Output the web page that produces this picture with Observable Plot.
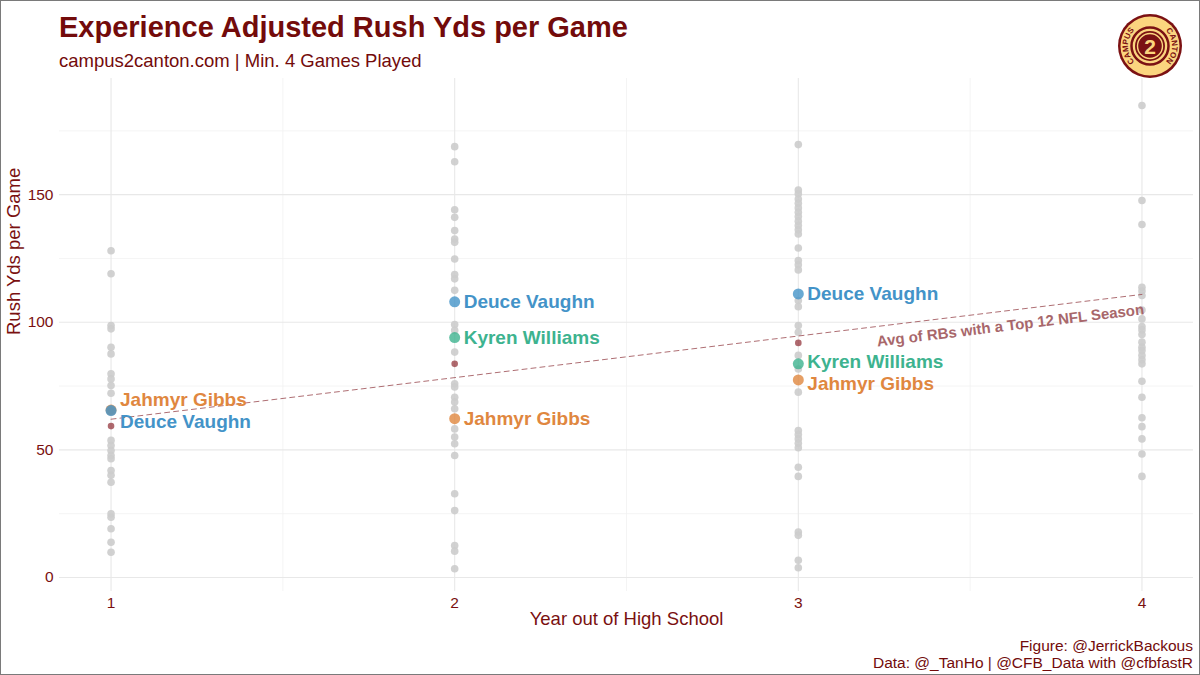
<!DOCTYPE html>
<html><head><meta charset="utf-8">
<script src="https://cdn.jsdelivr.net/npm/d3@7"></script>
<script src="https://cdn.jsdelivr.net/npm/@observablehq/plot@0.6"></script>
<style>
html,body{margin:0;padding:0;background:#fff;}
#wrap{position:relative;width:1200px;height:675px;overflow:hidden;font-family:"Liberation Sans",Arial,Helvetica,sans-serif;background:#fff;}
#frame{position:absolute;left:0;top:0;width:1200px;height:675px;box-sizing:border-box;border:1px solid #7a7a7a;pointer-events:none;}
#title{position:absolute;left:59px;top:10px;font-size:29px;font-weight:bold;color:#730b0b;line-height:34px;white-space:nowrap;}
#subtitle{position:absolute;left:59px;top:50px;font-size:18.5px;color:#730b0b;line-height:22px;white-space:nowrap;}
#chart{position:absolute;left:0;top:70px;width:1200px;height:565px;}
#caption{position:absolute;right:7px;top:637px;text-align:right;font-size:15.5px;color:#730b0b;line-height:17px;white-space:nowrap;}
#logo{position:absolute;left:1117px;top:13px;}
</style>
</head>
<body>
<div id="wrap">
  <div id="title">Experience Adjusted Rush Yds per Game</div>
  <div id="subtitle">campus2canton.com | Min. 4 Games Played</div>
  <svg id="logo" width="66" height="66" viewBox="-33 -33 66 66">
    <defs>
      <path id="arcL" d="M -15.6 15.6 A 22 22 0 0 1 -15.6 -15.6"/>
      <path id="arcR" d="M 15.6 -15.6 A 22 22 0 0 1 15.6 15.6"/>
    </defs>
    <circle r="32" fill="#7b1113"/>
    <circle r="29.5" fill="#fbd57f"/>
    <circle r="18.5" fill="none" stroke="#7b1113" stroke-width="2.5"/>
    <circle r="15" fill="#7b1113"/>
    <circle r="12.5" fill="none" stroke="#fbd57f" stroke-width="1.4"/>
    <text x="0" y="7.5" text-anchor="middle" font-family="Liberation Sans, Arial, sans-serif" font-weight="bold" font-size="21" fill="#fbd57f">2</text>
    <text font-family="Liberation Sans, Arial, sans-serif" font-weight="bold" font-size="8" fill="#7b1113"><textPath href="#arcL" startOffset="50%" text-anchor="middle">CAMPUS</textPath></text>
    <text font-family="Liberation Sans, Arial, sans-serif" font-weight="bold" font-size="8" fill="#7b1113"><textPath href="#arcR" startOffset="50%" text-anchor="middle">CANTON</textPath></text>
  </svg>
  <div id="chart"></div>
  <div id="caption">Figure: @JerrickBackous<br>Data: @_TanHo | @CFB_Data with @cfbfastR</div>
  <div id="frame"></div>
</div>
<script>
// ---- data ----
const xTicks = [1, 2, 3, 4];
const xMinor = [1.5, 2.5, 3.5];
const yTicks = [0, 50, 100, 150];
const yMinor = [25, 75, 125, 175];

const grayYear1 = [128, 119, 98.7, 97.4, 90.2, 87.6, 79.8, 77.8, 75.2, 72.2, 65.4, 53.7, 51.7, 49.7, 47.8, 46.5, 41.9, 40.0, 37.3, 24.9, 23.6, 19.1, 13.8, 9.9];
const grayYear2 = [168.8, 162.9, 144.1, 141.1, 135.9, 132.6, 131.3, 124.8, 118.7, 117.0, 112.5, 99.1, 96.8, 88.3, 75.9, 74.6, 70.6, 68.7, 66.1, 58.2, 55.0, 52.4, 47.8, 32.8, 26.2, 12.5, 10.3, 3.4];
const grayYear3 = [169.6, 151.8, 150.3, 148.3, 146.6, 144.8, 143.1, 141.4, 139.6, 137.9, 136.2, 134.6, 129.1, 124.2, 122.5, 120.5, 108.5, 106.1, 98.7, 96.1, 87.0, 81.7, 72.6, 57.6, 56.0, 54.3, 52.6, 50.8, 43.2, 39.6, 17.8, 16.5, 6.7, 3.8];
const grayYear4 = [184.9, 147.7, 138.3, 113.7, 112.2, 110.5, 104.8, 101.3, 98.3, 97.0, 95.2, 92.2, 90.2, 88.9, 87.0, 85.3, 83.7, 76.9, 70.6, 62.6, 59.1, 54.3, 48.4, 39.6];

const players = ["Jahmyr Gibbs", "Kyren Williams", "Deuce Vaughn"];
const playerColors = ["#e0873f", "#3db38f", "#4393c8"];
const gibbsYears = [1, 2, 3];
const gibbsVals = [65.6, 62.2, 77.4];
const kyrenYears = [2, 3];
const kyrenVals = [94.0, 83.7];
const deuceYears = [1, 2, 3];
const deuceVals = [65.4, 108.0, 111.1];

const avgYears = [1, 2, 3];
const avgVals = [59.3, 83.7, 91.9];
const avgLabel = "Avg of RBs with a Top 12 NFL Season";

// ---- tables ----
const gray = [grayYear1, grayYear2, grayYear3, grayYear4]
  .flatMap((vals, i) => vals.map(v => ({year: xTicks[i], value: v})));
const highlight = [
  ...gibbsYears.map((y, i) => ({player: players[0], year: y, value: gibbsVals[i]})),
  ...kyrenYears.map((y, i) => ({player: players[1], year: y, value: kyrenVals[i]})),
  ...deuceYears.map((y, i) => ({player: players[2], year: y, value: deuceVals[i]}))
];
const avg = avgYears.map((y, i) => ({year: y, value: avgVals[i]}));

// linear fit of the averages, drawn across the full year range
const mx = d3.mean(avg, d => d.year), my = d3.mean(avg, d => d.value);
const slope = d3.sum(avg, d => (d.year - mx) * (d.value - my)) / d3.sum(avg, d => (d.year - mx) ** 2);
const fit = x => my + slope * (x - mx);
const fitLine = [xTicks[0], xTicks[xTicks.length - 1]].map(x => ({year: x, value: fit(x)}));

// label nudges (like ggrepel) for crowded spots
const nudge = {"Jahmyr Gibbs|1": -10, "Deuce Vaughn|1": 11, "Kyren Williams|3": -2, "Jahmyr Gibbs|3": 4};
const groups = d3.groups(highlight, d => nudge[d.player + "|" + d.year] || 0);
const colorScale = {domain: players, range: playerColors};

const labelMarks = groups.map(([dy, rows]) => Plot.text(rows, {
  x: "year", y: "value", text: "player", fill: "player",
  textAnchor: "start", dx: 9, dy, fontSize: 19, fontWeight: "bold"
}));

const angle = -Math.atan((slope * 2.553) / 343.6) * 180 / Math.PI;

const chart = Plot.plot({
  width: 1200, height: 565,
  marginTop: 8, marginBottom: 44, marginLeft: 59, marginRight: 7,
  style: {fontFamily: "'Liberation Sans', Arial, Helvetica, sans-serif", fontSize: "15.5px", color: "#7a1010", background: "transparent", overflow: "visible"},
  x: {domain: [0.85, 4.15], ticks: xTicks, tickSize: 0, tickPadding: 5, label: null, tickFormat: d3.format("d")},
  y: {domain: [-5.5, 195.5], ticks: yTicks, tickSize: 0, tickPadding: 6, label: null},
  color: colorScale,
  marks: [
    Plot.ruleY(yMinor, {stroke: "#f1f1f1", strokeWidth: 0.8}),
    Plot.ruleX(xMinor, {stroke: "#f1f1f1", strokeWidth: 0.8}),
    Plot.ruleY(yTicks, {stroke: "#e8e8e8", strokeWidth: 1.1}),
    Plot.ruleX(xTicks, {stroke: "#e8e8e8", strokeWidth: 1.1}),
    Plot.dot(gray, {x: "year", y: "value", r: 3.8, fill: "#cccccc", fillOpacity: 0.9, stroke: "none"}),
    Plot.line(fitLine, {x: "year", y: "value", stroke: "#a0555a", strokeOpacity: 0.85, strokeWidth: 1, strokeDasharray: "5,4"}),
    Plot.dot(avg, {x: "year", y: "value", r: 3.3, fill: "#8d2a30", fillOpacity: 0.7, stroke: "none"}),
    Plot.dot(highlight, {x: "year", y: "value", r: 5.5, fill: "player", fillOpacity: 0.8, stroke: "none"}),
    ...labelMarks,
    Plot.text([avgLabel], {x: () => xTicks[3], y: () => fit(xTicks[3]), text: d => d, textAnchor: "end", rotate: angle, dy: 15, dx: 2, fontSize: 15, fontWeight: "bold", fill: "#a8676b"}),
    Plot.text(["Year out of High School"], {frameAnchor: "bottom", dy: 33, text: d => d, fontSize: 18.5}),
    Plot.text(["Rush Yds per Game"], {frameAnchor: "left", dx: -45, rotate: -90, text: d => d, fontSize: 18.5})
  ]
});
document.getElementById("chart").appendChild(chart);
</script>
</body></html>
